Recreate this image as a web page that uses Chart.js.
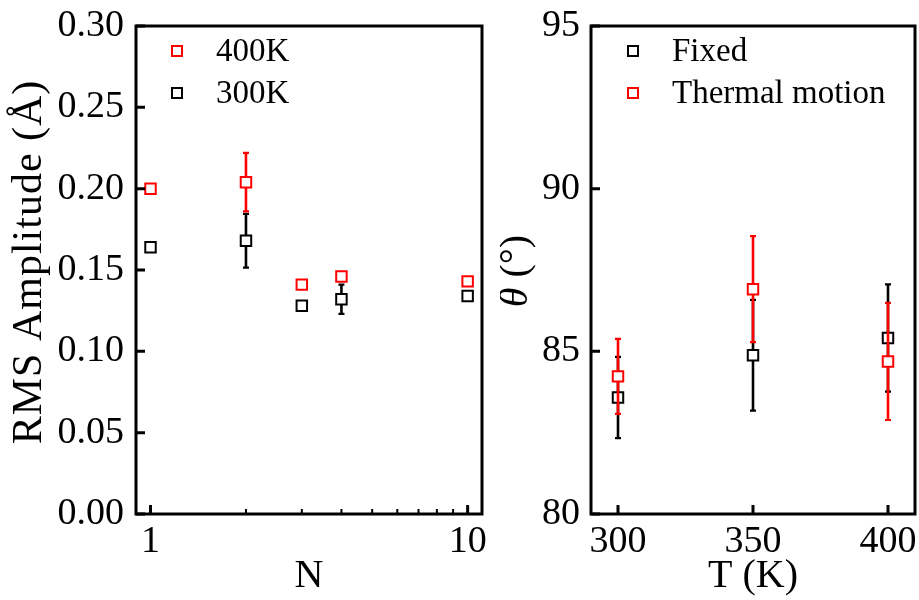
<!DOCTYPE html>
<html><head><meta charset="utf-8">
<script src="https://cdn.jsdelivr.net/npm/chart.js@4"></script>
<style>
html,body{margin:0;padding:0;background:#fff;width:919px;height:600px;overflow:hidden}
#wrapL{position:absolute;left:0;top:0;width:500px;height:600px}
#wrapR{position:absolute;left:500px;top:0;width:419px;height:600px}
canvas{display:block}
</style></head><body>
<div id="wrapL"><canvas id="cL" width="500" height="600"></canvas></div>
<div id="wrapR"><canvas id="cR" width="419" height="600"></canvas></div>
<script>
// ---- Left panel data ----
const nValues = [1, 2, 3, 4, 10];
const rms400K = [0.200, 0.204, 0.141, 0.146, 0.143];
const rms400KErr = [0, 0.018, 0, 0, 0];
const rms300K = [0.164, 0.168, 0.128, 0.132, 0.134];
const rms300KErr = [0, 0.0165, 0, 0.009, 0];
const nTicks = [1, 10];
const nMinorTicks = [2, 3, 4, 5, 6, 7, 8, 9];
const rmsTicks = [0, 0.05, 0.10, 0.15, 0.20, 0.25, 0.30];

// ---- Right panel data ----
const tValues = [300, 350, 400];
const thetaFixed = [83.58, 84.88, 85.41];
const thetaFixedErr = [1.25, 1.70, 1.65];
const thetaThermal = [84.23, 86.91, 84.69];
const thetaThermalErr = [1.15, 1.63, 1.80];
const tTicks = [300, 350, 400];
const thetaTicks = [80, 85, 90, 95];

const SERIF = '"Liberation Serif", "Times New Roman", serif';
const RED = '#ff0000', BLACK = '#000000';

const pts = (xs, ys) => xs.map((x, i) => ({x: x, y: ys[i]}));

const errorBarPlugin = {
  id: 'errbars',
  beforeDatasetDraw(chart, args) {
    const ds = chart.data.datasets[args.index];
    if (!ds.errors) return;
    const ys = chart.scales.y, ctx = chart.ctx;
    ctx.save();
    ctx.strokeStyle = ds.borderColor;
    ds.errors.forEach((e, i) => {
      if (!e) return;
      const el = args.meta.data[i];
      const v = ds.data[i].y;
      const yt = ys.getPixelForValue(v + e), yb = ys.getPixelForValue(v - e);
      ctx.lineWidth = 2.6;
      ctx.beginPath(); ctx.moveTo(el.x, yt); ctx.lineTo(el.x, yb); ctx.stroke();
      ctx.lineWidth = 2.2;
      ctx.beginPath();
      ctx.moveTo(el.x - 3, yt); ctx.lineTo(el.x + 3, yt);
      ctx.moveTo(el.x - 3, yb); ctx.lineTo(el.x + 3, yb);
      ctx.stroke();
    });
    ctx.restore();
  }
};

const framePlugin = {
  id: 'frame',
  afterDatasetsDraw(chart, args, opts) {
    const {ctx, chartArea: a} = chart;
    const xs = chart.scales.x, ys = chart.scales.y;
    ctx.save();
    ctx.strokeStyle = '#000';
    ctx.lineWidth = 3;
    ctx.strokeRect(a.left, a.top, a.right - a.left, a.bottom - a.top);
    ctx.lineWidth = 3;
    ctx.beginPath();
    xs.ticks.forEach(t => { const x = xs.getPixelForValue(t.value); ctx.moveTo(x, a.bottom); ctx.lineTo(x, a.bottom - 9); });
    ys.ticks.forEach(t => { const y = ys.getPixelForValue(t.value); ctx.moveTo(a.left, y); ctx.lineTo(a.left + 9, y); });
    ctx.stroke();
    if (opts.xMinor) {
      ctx.lineWidth = 2;
      ctx.beginPath();
      opts.xMinor.forEach(v => { const x = xs.getPixelForValue(v); ctx.moveTo(x, a.bottom); ctx.lineTo(x, a.bottom - 5); });
      ctx.stroke();
    }
    ctx.restore();
  }
};

const legendPlugin = {
  id: 'customLegend',
  afterDraw(chart, args, opts) {
    const ctx = chart.ctx;
    ctx.save();
    ctx.font = '33px ' + SERIF;
    ctx.textBaseline = 'middle';
    ctx.textAlign = 'left';
    opts.order.forEach((di, k) => {
      const ds = chart.data.datasets[di];
      const y = opts.y + k * opts.gap;
      ctx.strokeStyle = ds.borderColor;
      ctx.lineWidth = 2;
      ctx.strokeRect(opts.x - 5, y - 5, 10, 10);
      ctx.fillStyle = '#000';
      ctx.fillText(ds.label, opts.textX, y + 1);
    });
    ctx.restore();
  }
};

// vertical axis title drawn as real text; parts allow an italic symbol
const yTitlePlugin = {
  id: 'yTitle',
  afterDraw(chart, args, opts) {
    if (!opts.parts) return;
    const ctx = chart.ctx;
    ctx.save();
    ctx.translate(opts.x, opts.y);
    ctx.rotate(-Math.PI / 2);
    ctx.fillStyle = '#000';
    ctx.textBaseline = 'middle';
    ctx.textAlign = 'left';
    if (opts.spacing) ctx.letterSpacing = opts.spacing + 'px';
    const fonts = opts.parts.map(p => (p.italic ? 'italic ' : '') + opts.size + 'px ' + SERIF);
    const widths = opts.parts.map((p, i) => { ctx.font = fonts[i]; return ctx.measureText(p.text).width; });
    let x = -widths.reduce((a, b) => a + b, 0) / 2;
    opts.parts.forEach((p, i) => { ctx.font = fonts[i]; ctx.fillText(p.text, x, 0); x += widths[i]; });
    ctx.restore();
  }
};

const tickFont = {family: SERIF, size: 38};
const titleFont = {family: SERIF, size: 40};
const pointStyleOpts = {pointStyle: 'rect', pointRadius: 7.4, pointHoverRadius: 7.4, borderWidth: 2, pointBackgroundColor: '#fff', showLine: false};
const fixX = s => { s.height = 86; s.paddingLeft = 0; s.paddingRight = 0; };

// ---- Left chart ----
new Chart(document.getElementById('cL'), {
  type: 'scatter',
  data: {
    datasets: [
      Object.assign({label: '400K', data: pts(nValues, rms400K), errors: rms400KErr, borderColor: RED, backgroundColor: '#fff'}, pointStyleOpts),
      Object.assign({label: '300K', data: pts(nValues, rms300K), errors: rms300KErr, borderColor: BLACK, backgroundColor: '#fff'}, pointStyleOpts)
    ]
  },
  options: {
    responsive: false, animation: false,
    layout: {autoPadding: false, padding: {top: 26, right: 18, left: 0, bottom: 0}},
    plugins: {
      legend: {display: false}, tooltip: {enabled: false},
      frame: {xMinor: nMinorTicks},
      customLegend: {order: [0, 1], x: 177, y: 51, gap: 42, textX: 216},
      yTitle: {parts: [{text: 'RMS Amplitude (Å)'}], size: 42, spacing: 1, x: 30, y: 262}
    },
    scales: {
      x: {
        type: 'logarithmic', min: 0.9, max: 11.1,
        afterBuildTicks: s => { s.ticks = nTicks.map(v => ({value: v})); },
        afterFit: fixX,
        ticks: {font: tickFont, color: '#000', padding: 5, autoSkip: false, maxRotation: 0, callback: v => String(v)},
        grid: {display: false, drawTicks: false}, border: {display: false},
        title: {display: true, text: 'N', font: titleFont, color: '#000', padding: {top: 0, bottom: 0}}
      },
      y: {
        type: 'linear', min: 0, max: 0.30,
        afterBuildTicks: s => { s.ticks = rmsTicks.map(v => ({value: v})); },
        afterFit: s => { s.width = 136; s.paddingTop = 0; s.paddingBottom = 0; },
        ticks: {font: tickFont, color: '#000', padding: 12, callback: v => v.toFixed(2)},
        grid: {display: false, drawTicks: false}, border: {display: false},
        title: {display: false}
      }
    }
  },
  plugins: [errorBarPlugin, framePlugin, legendPlugin, yTitlePlugin]
});

// ---- Right chart ----
new Chart(document.getElementById('cR'), {
  type: 'scatter',
  data: {
    datasets: [
      Object.assign({label: 'Fixed', data: pts(tValues, thetaFixed), errors: thetaFixedErr, borderColor: BLACK, backgroundColor: '#fff', order: 2}, pointStyleOpts),
      Object.assign({label: 'Thermal motion', data: pts(tValues, thetaThermal), errors: thetaThermalErr, borderColor: RED, backgroundColor: '#fff', order: 1}, pointStyleOpts)
    ]
  },
  options: {
    responsive: false, animation: false,
    layout: {autoPadding: false, padding: {top: 26, right: 4, left: 0, bottom: 0}},
    plugins: {
      legend: {display: false}, tooltip: {enabled: false},
      frame: {},
      customLegend: {order: [0, 1], x: 133, y: 51, gap: 42, textX: 172},
      yTitle: {parts: [{text: 'θ', italic: true}, {text: ' (°)'}], size: 40, x: 16, y: 271}
    },
    scales: {
      x: {
        type: 'linear', min: 290, max: 410,
        afterBuildTicks: s => { s.ticks = tTicks.map(v => ({value: v})); },
        afterFit: fixX,
        ticks: {font: tickFont, color: '#000', padding: 5, autoSkip: false, maxRotation: 0, callback: v => String(v)},
        grid: {display: false, drawTicks: false}, border: {display: false},
        title: {display: true, text: 'T (K)', font: titleFont, color: '#000', padding: {top: 0, bottom: 0}}
      },
      y: {
        type: 'linear', min: 80, max: 95,
        afterBuildTicks: s => { s.ticks = thetaTicks.map(v => ({value: v})); },
        afterFit: s => { s.width = 91; s.paddingTop = 0; s.paddingBottom = 0; },
        ticks: {font: tickFont, color: '#000', padding: 11, callback: v => String(v)},
        grid: {display: false, drawTicks: false}, border: {display: false},
        title: {display: false}
      }
    }
  },
  plugins: [errorBarPlugin, framePlugin, legendPlugin, yTitlePlugin]
});
</script>
</body></html>
